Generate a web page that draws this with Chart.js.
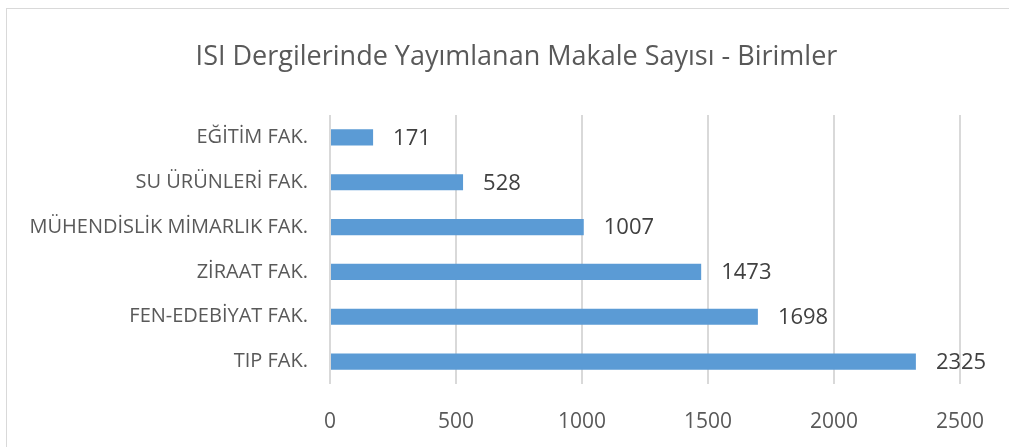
<html lang="tr">
<head>
    <meta charset="UTF-8">
    <title>ISI Dergilerinde Yayımlanan Makale Sayısı</title>
    <script src="https://cdn.jsdelivr.net/npm/chart.js@4.4.1/dist/chart.umd.min.js"></script>
    <style>
        body { margin: 0; overflow: hidden; background: #fff; }
        #frame { position: absolute; left: 6px; top: 8px; width: 1100px; height: 600px; border: 1px solid #d9d9d9; }
        #wrap { position: absolute; left: 0; top: 0; width: 1009px; height: 447px; }
    </style>
</head>
<body>
    <div id="frame"></div>
    <div id="wrap"><canvas id="myChart"></canvas></div>

<script>
    // Veriler
    var baslik = 'ISI Dergilerinde Yayımlanan Makale Sayısı - Birimler';
    var birimler = ['EĞİTİM FAK.', 'SU ÜRÜNLERİ FAK.', 'MÜHENDİSLİK MİMARLIK FAK.', 'ZİRAAT FAK.', 'FEN-EDEBİYAT FAK.', 'TIP FAK.'];
    var makaleSayisi = [171, 528, 1007, 1473, 1698, 2325];
    var eksenMin = 0, eksenMax = 2500, eksenAdim = 500;

    var fontAdi = '"Open Sans", sans-serif';

    // Baslik (grafik ortasinin biraz sagina)
    var baslikYaz = {
        id: 'baslikYaz',
        afterDraw(chart) {
            var ctx = chart.ctx;
            ctx.save();
            ctx.font = '27px ' + fontAdi;
            ctx.fillStyle = '#595959';
            ctx.textAlign = 'center';
            ctx.textBaseline = 'middle';
            ctx.fillText(baslik, chart.width / 2 + 12, 57);
            ctx.restore();
        }
    };

    // Cubuklarin sagina deger yazar
    var degerEtiketi = {
        id: 'degerEtiketi',
        afterDatasetsDraw(chart) {
            var ctx = chart.ctx;
            ctx.save();
            ctx.font = '22px ' + fontAdi;
            ctx.fillStyle = '#404040';
            ctx.textAlign = 'left';
            ctx.textBaseline = 'middle';
            chart.getDatasetMeta(0).data.forEach((bar, i) => {
                ctx.fillText(makaleSayisi[i], bar.x + 20, bar.y + 1);
            });
            ctx.restore();
        }
    };

    var ctx = document.getElementById('myChart').getContext('2d');
    var myChart = new Chart(ctx, {
        type: 'bar',
        data: {
            labels: birimler,
            datasets: [{
                data: makaleSayisi,
                backgroundColor: '#5b9bd5',
                barPercentage: 0.36,
                categoryPercentage: 1
            }]
        },
        options: {
            indexAxis: 'y',
            responsive: true,
            maintainAspectRatio: false,
            animation: false,
            layout: { padding: { left: 0, right: 49, top: 115, bottom: 0 } },
            plugins: {
                legend: { display: false },
                tooltip: { enabled: false },
                title: { display: false }
            },
            scales: {
                x: {
                    min: eksenMin,
                    max: eksenMax,
                    ticks: {
                        stepSize: eksenAdim,
                        color: '#595959',
                        font: { family: fontAdi, size: 21 },
                        padding: 25,
                        callback: (v) => String(v)
                    },
                    grid: { color: '#d9d9d9', lineWidth: 2, drawTicks: false },
                    border: { display: false },
                    afterFit(scale) { scale.height = 63; }
                },
                y: {
                    ticks: {
                        color: '#595959',
                        font: { family: fontAdi, size: 20 },
                        padding: 14
                    },
                    grid: { display: false },
                    border: { display: false },
                    afterFit(scale) { scale.width = 330; }
                }
            }
        },
        plugins: [degerEtiketi, baslikYaz]
    });
</script>
</body>
</html>
